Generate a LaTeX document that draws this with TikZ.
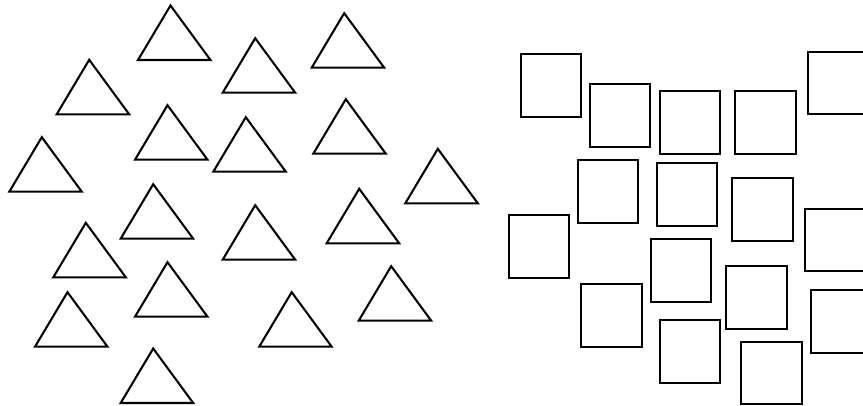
\documentclass[tikz,border=0pt]{standalone}
\begin{document}
\begin{tikzpicture}[x=0.75pt,y=-0.75pt,
  shape line/.style={draw=black,line width=1.55pt,line join=miter},
  tri/.style={shape line},
  sq/.style={shape line}]
\useasboundingbox (0,0) rectangle (863,406);
\clip (0,0) rectangle (863,406);
\fill[white] (0,0) rectangle (863,406);
% triangles: base-left corner given; width 72.5, apex 32.5 right of left, 54.5 up
\foreach \x/\y in {138/60, 222.7/92.7, 311.7/67.7, 56.7/114.3, 135/159.7,
  213.3/171.7, 313.3/153.7, 9.3/191.7, 405.3/203.3, 120.7/238.7,
  53.3/277.3, 222.7/259.7, 326.7/243.3, 135/316.7, 358.7/320.7,
  35/346.7, 259.2/346.7, 120.7/403}
  \draw[tri] (\x,\y) -- ++(72.5,0) -- ++(-40,-54.5) -- cycle;
% squares
\foreach \a/\b/\c/\d in {521/54/581/117, 590/84/650/147, 660/91/720/154,
  735/91/796/154, 808/52/868/114, 578/160/638/223, 657/163/717/226,
  732/178/793/241, 509/215/569/278, 805/209/865/271, 651/239/711/302,
  726/266/787/329, 811/290/871/353, 581/284/642/347, 660/320/720/383,
  741/342/802/404}
  \draw[sq] (\a,\b) rectangle (\c,\d);
\end{tikzpicture}
\end{document}
